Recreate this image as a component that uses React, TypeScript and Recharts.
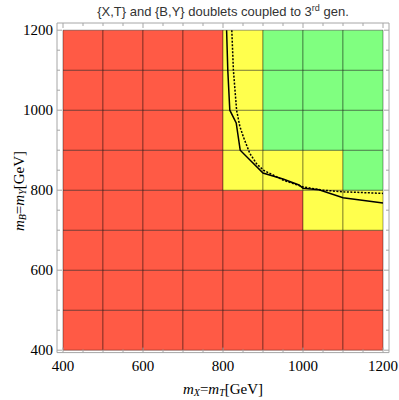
import React from "react";
import {
  ComposedChart,
  XAxis,
  YAxis,
  Line,
  ReferenceArea,
} from "recharts";

// lower edges of the 100 GeV mass bins (both axes)
const massBins = [400, 500, 600, 700, 800, 900, 1000, 1100];
const binWidth = 100;

// cell status per row (row = m_B bin, column = m_X bin): R excluded, Y partly, G allowed
const row400 = ["R", "R", "R", "R", "R", "R", "R", "R"];
const row500 = ["R", "R", "R", "R", "R", "R", "R", "R"];
const row600 = ["R", "R", "R", "R", "R", "R", "R", "R"];
const row700 = ["R", "R", "R", "R", "R", "R", "Y", "Y"];
const row800 = ["R", "R", "R", "R", "Y", "Y", "Y", "G"];
const row900 = ["R", "R", "R", "R", "Y", "G", "G", "G"];
const row1000 = ["R", "R", "R", "R", "Y", "G", "G", "G"];
const row1100 = ["R", "R", "R", "R", "Y", "G", "G", "G"];
const cellRows = [row400, row500, row600, row700, row800, row900, row1000, row1100];

// exclusion contours
const solidContour = [
  { x: 809, y: 1200 },
  { x: 812, y: 1100 },
  { x: 817, y: 1000 },
  { x: 833, y: 968 },
  { x: 843, y: 900 },
  { x: 900, y: 843 },
  { x: 950, y: 828 },
  { x: 990, y: 813 },
  { x: 1000, y: 805 },
  { x: 1040, y: 801 },
  { x: 1100, y: 781 },
  { x: 1200, y: 768 },
];
const dottedContour = [
  { x: 822, y: 1200 },
  { x: 826, y: 1100 },
  { x: 834, y: 1000 },
  { x: 842, y: 960 },
  { x: 851, y: 933 },
  { x: 867, y: 892 },
  { x: 884, y: 866 },
  { x: 901, y: 850 },
  { x: 951, y: 825 },
  { x: 1001, y: 808 },
  { x: 1050, y: 800 },
  { x: 1101, y: 796 },
  { x: 1200, y: 792 },
];

const allTicks = [400, 450, 500, 550, 600, 650, 700, 750, 800, 850, 900, 950, 1000, 1050, 1100, 1150, 1200];
const labelTicks = [400, 600, 800, 1000, 1200];

const cellColors: Record<string, string> = {
  R: "#FF5A45",
  Y: "#FFFF4D",
  G: "#80FF80",
};
const frameColor = "#a6a6a6";
const serif = '"Liberation Serif", "Times New Roman", serif';
const subStyle = { fontSize: 10, lineHeight: 0, verticalAlign: "-0.2em" };

const XTick = (props: any) => {
  const { x, y, payload, orientation } = props;
  const v = payload.value;
  const major = labelTicks.includes(v);
  const len = major ? 5 : 3;
  const dir = orientation === "top" ? 1 : -1;
  return (
    <g>
      <line x1={x} x2={x} y1={y} y2={y + dir * len} stroke={frameColor} />
      {orientation !== "top" && major && (
        <text x={x} y={y + 13} textAnchor="middle" dominantBaseline="central"
          fontFamily={serif} fontSize={15} fill="#000">
          {v}
        </text>
      )}
    </g>
  );
};

const YTick = (props: any) => {
  const { x, y, payload, orientation } = props;
  const v = payload.value;
  const major = labelTicks.includes(v);
  const len = major ? 5 : 3;
  const dir = orientation === "right" ? -1 : 1;
  return (
    <g>
      <line x1={x} x2={x + dir * len} y1={y} y2={y} stroke={frameColor} />
      {orientation !== "right" && major && (
        <text x={x - 4} y={y} textAnchor="end" dominantBaseline="central"
          fontFamily={serif} fontSize={15} fill="#000">
          {v}
        </text>
      )}
    </g>
  );
};

export default function App() {
  return (
    <div
      style={{
        position: "absolute",
        left: 0,
        top: 0,
        width: 399,
        height: 400,
        overflow: "hidden",
        background: "#fff",
      }}
    >
      <div
        style={{
          position: "absolute",
          left: 57,
          width: 332,
          top: 3,
          textAlign: "center",
          fontFamily: '"Liberation Sans", Arial, sans-serif',
          fontSize: 13,
          color: "#333",
          whiteSpace: "nowrap",
        }}
      >
        {"{X,T} and {B,Y} doublets coupled to 3"}
        <sup style={{ fontSize: 9 }}>rd</sup> gen.
      </div>
      <ComposedChart
        width={399}
        height={400}
        margin={{ top: 15, right: 2, bottom: 17.4, left: 17 }}
      >
        <XAxis
          dataKey="x"
          type="number"
          domain={[385, 1215]}
          allowDataOverflow
          ticks={allTicks}
          interval={0}
          tickSize={0}
          tickMargin={0}
          height={30}
          stroke={frameColor}
          tick={<XTick />}
          tickLine={false}
        />
        <XAxis
          xAxisId="top"
          orientation="top"
          dataKey="x"
          type="number"
          domain={[385, 1215]}
          allowDataOverflow
          ticks={allTicks}
          interval={0}
          tickSize={0}
          tickMargin={0}
          height={8}
          stroke={frameColor}
          tick={<XTick />}
          tickLine={false}
        />
        <YAxis
          type="number"
          domain={[394, 1218]}
          allowDataOverflow
          ticks={allTicks}
          interval={0}
          tickSize={0}
          tickMargin={0}
          width={40}
          stroke={frameColor}
          tick={<YTick />}
          tickLine={false}
        />
        <YAxis
          yAxisId="right"
          orientation="right"
          type="number"
          domain={[394, 1218]}
          allowDataOverflow
          ticks={allTicks}
          interval={0}
          tickSize={0}
          tickMargin={0}
          width={8}
          stroke={frameColor}
          tick={<YTick />}
          tickLine={false}
        />
        {cellRows.map((row, j) =>
          row.map((s, i) => (
            <ReferenceArea
              key={`c-${j}-${i}`}
              x1={massBins[i]}
              x2={massBins[i] + binWidth}
              y1={massBins[j]}
              y2={massBins[j] + binWidth}
              fill={cellColors[s]}
              fillOpacity={1}
              stroke="#000"
              strokeOpacity={0.38}
              strokeWidth={1}
            />
          ))
        )}
        <Line
          data={dottedContour}
          dataKey="y"
          type="linear"
          stroke="#000"
          strokeWidth={1.5}
          strokeDasharray="2 1.5"
          dot={false}
          isAnimationActive={false}
        />
        <Line
          data={solidContour}
          dataKey="y"
          type="linear"
          stroke="#000"
          strokeWidth={1.5}
          dot={false}
          isAnimationActive={false}
        />
      </ComposedChart>
      <div
        style={{
          position: "absolute",
          left: 57,
          width: 332,
          top: 381,
          height: 16,
          lineHeight: "16px",
          textAlign: "center",
          fontFamily: serif,
          fontSize: 15,
          whiteSpace: "nowrap",
        }}
      >
        <i>m</i>
        <sub style={subStyle}><i>X</i></sub>=<i>m</i>
        <sub style={subStyle}><i>T</i></sub>[GeV]
      </div>
      <div
        style={{
          position: "absolute",
          left: 19 - 60,
          top: 191 - 10,
          width: 120,
          height: 20,
          lineHeight: "20px",
          textAlign: "center",
          transform: "rotate(-90deg)",
          fontFamily: serif,
          fontSize: 15,
          whiteSpace: "nowrap",
        }}
      >
        <i>m</i>
        <sub style={subStyle}><i>B</i></sub>=<i>m</i>
        <sub style={subStyle}><i>Y</i></sub>[GeV]
      </div>
    </div>
  );
}
